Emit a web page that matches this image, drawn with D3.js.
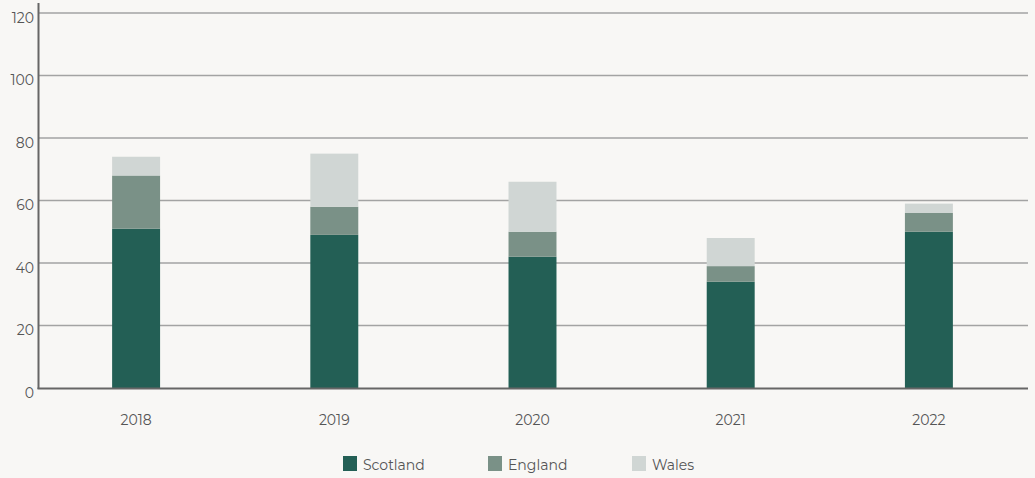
<!DOCTYPE html>
<html><head><meta charset="utf-8">
<script src="https://cdn.jsdelivr.net/npm/d3@7"></script>
<style>
html,body{margin:0;padding:0;background:#f8f7f5;}
text{font-family:"Montserrat","Lato","Open Sans",sans-serif;}
</style></head>
<body><svg id="chart" width="1035" height="478"></svg>
<script>
const years = ["2018","2019","2020","2021","2022"];
const seriesNames = ["Scotland","England","Wales"];
const scotland = [51, 49, 42, 34, 50];
const england = [17, 9, 8, 5, 6];
const wales = [6, 17, 16, 9, 3];
const yTicks = [0,20,40,60,80,100,120];
const colors = ["#235f55","#7a9187","#d0d6d4"];

const svg = d3.select("#chart");
svg.append("rect").attr("width",1035).attr("height",478).attr("fill","#f8f7f5");

const x = d3.scaleBand().domain(years).range([37,1028]).paddingInner(0.758).paddingOuter(0.379);
const y = d3.scaleLinear().domain([0,120]).range([388,13]);

const rows = years.map((yr,i)=>({year:yr, Scotland:scotland[i], England:england[i], Wales:wales[i]}));
const stack = d3.stack().keys(seriesNames)(rows);

// gridlines
svg.append("g").selectAll("line").data(yTicks.filter(t=>t>0)).join("line")
  .attr("x1",39).attr("x2",1028).attr("y1",d=>y(d)).attr("y2",d=>y(d))
  .attr("stroke","#a3a3a3").attr("stroke-width",1.5);

// bars
svg.append("g").selectAll("g").data(stack).join("g")
  .attr("fill",(d,i)=>colors[i])
  .selectAll("rect").data(d=>d).join("rect")
  .attr("x",d=>x(d.data.year)).attr("width",x.bandwidth())
  .attr("y",d=>y(d[1])).attr("height",d=>y(d[0])-y(d[1]));

// axes lines
svg.append("line").attr("x1",38.5).attr("x2",38.5).attr("y1",3).attr("y2",389).attr("stroke","#666").attr("stroke-width",2);
svg.append("line").attr("x1",37.5).attr("x2",1028).attr("y1",388.5).attr("y2",388.5).attr("stroke","#666").attr("stroke-width",2);

// y labels
const yAxis = d3.axisLeft(y).tickValues(yTicks).tickSize(0).tickPadding(0);
const yg = svg.append("g").attr("transform","translate(34,5)").call(yAxis);
yg.select(".domain").remove();
yg.selectAll("text").attr("fill","#555").style("font-size","14px").style("font-family","Montserrat, Lato, 'Open Sans', sans-serif");

// x labels
const xAxis = d3.axisBottom(x).tickSize(0).tickPadding(0);
const xg = svg.append("g").attr("transform","translate(0,415)").call(xAxis);
xg.select(".domain").remove();
xg.selectAll("text").attr("fill","#555").style("font-size","14px").style("font-family","Montserrat, Lato, 'Open Sans', sans-serif");

// legend
const legX = [343, 488, 632];
const lg = svg.append("g").selectAll("g").data(seriesNames).join("g")
  .attr("transform",(d,i)=>`translate(${legX[i]},456)`);
lg.append("rect").attr("width",14).attr("height",15).attr("fill",(d,i)=>colors[i]);
lg.append("text").attr("x",20).attr("y",14).attr("fill","#555").style("font-size","14px").text(d=>d);
</script></body></html>
